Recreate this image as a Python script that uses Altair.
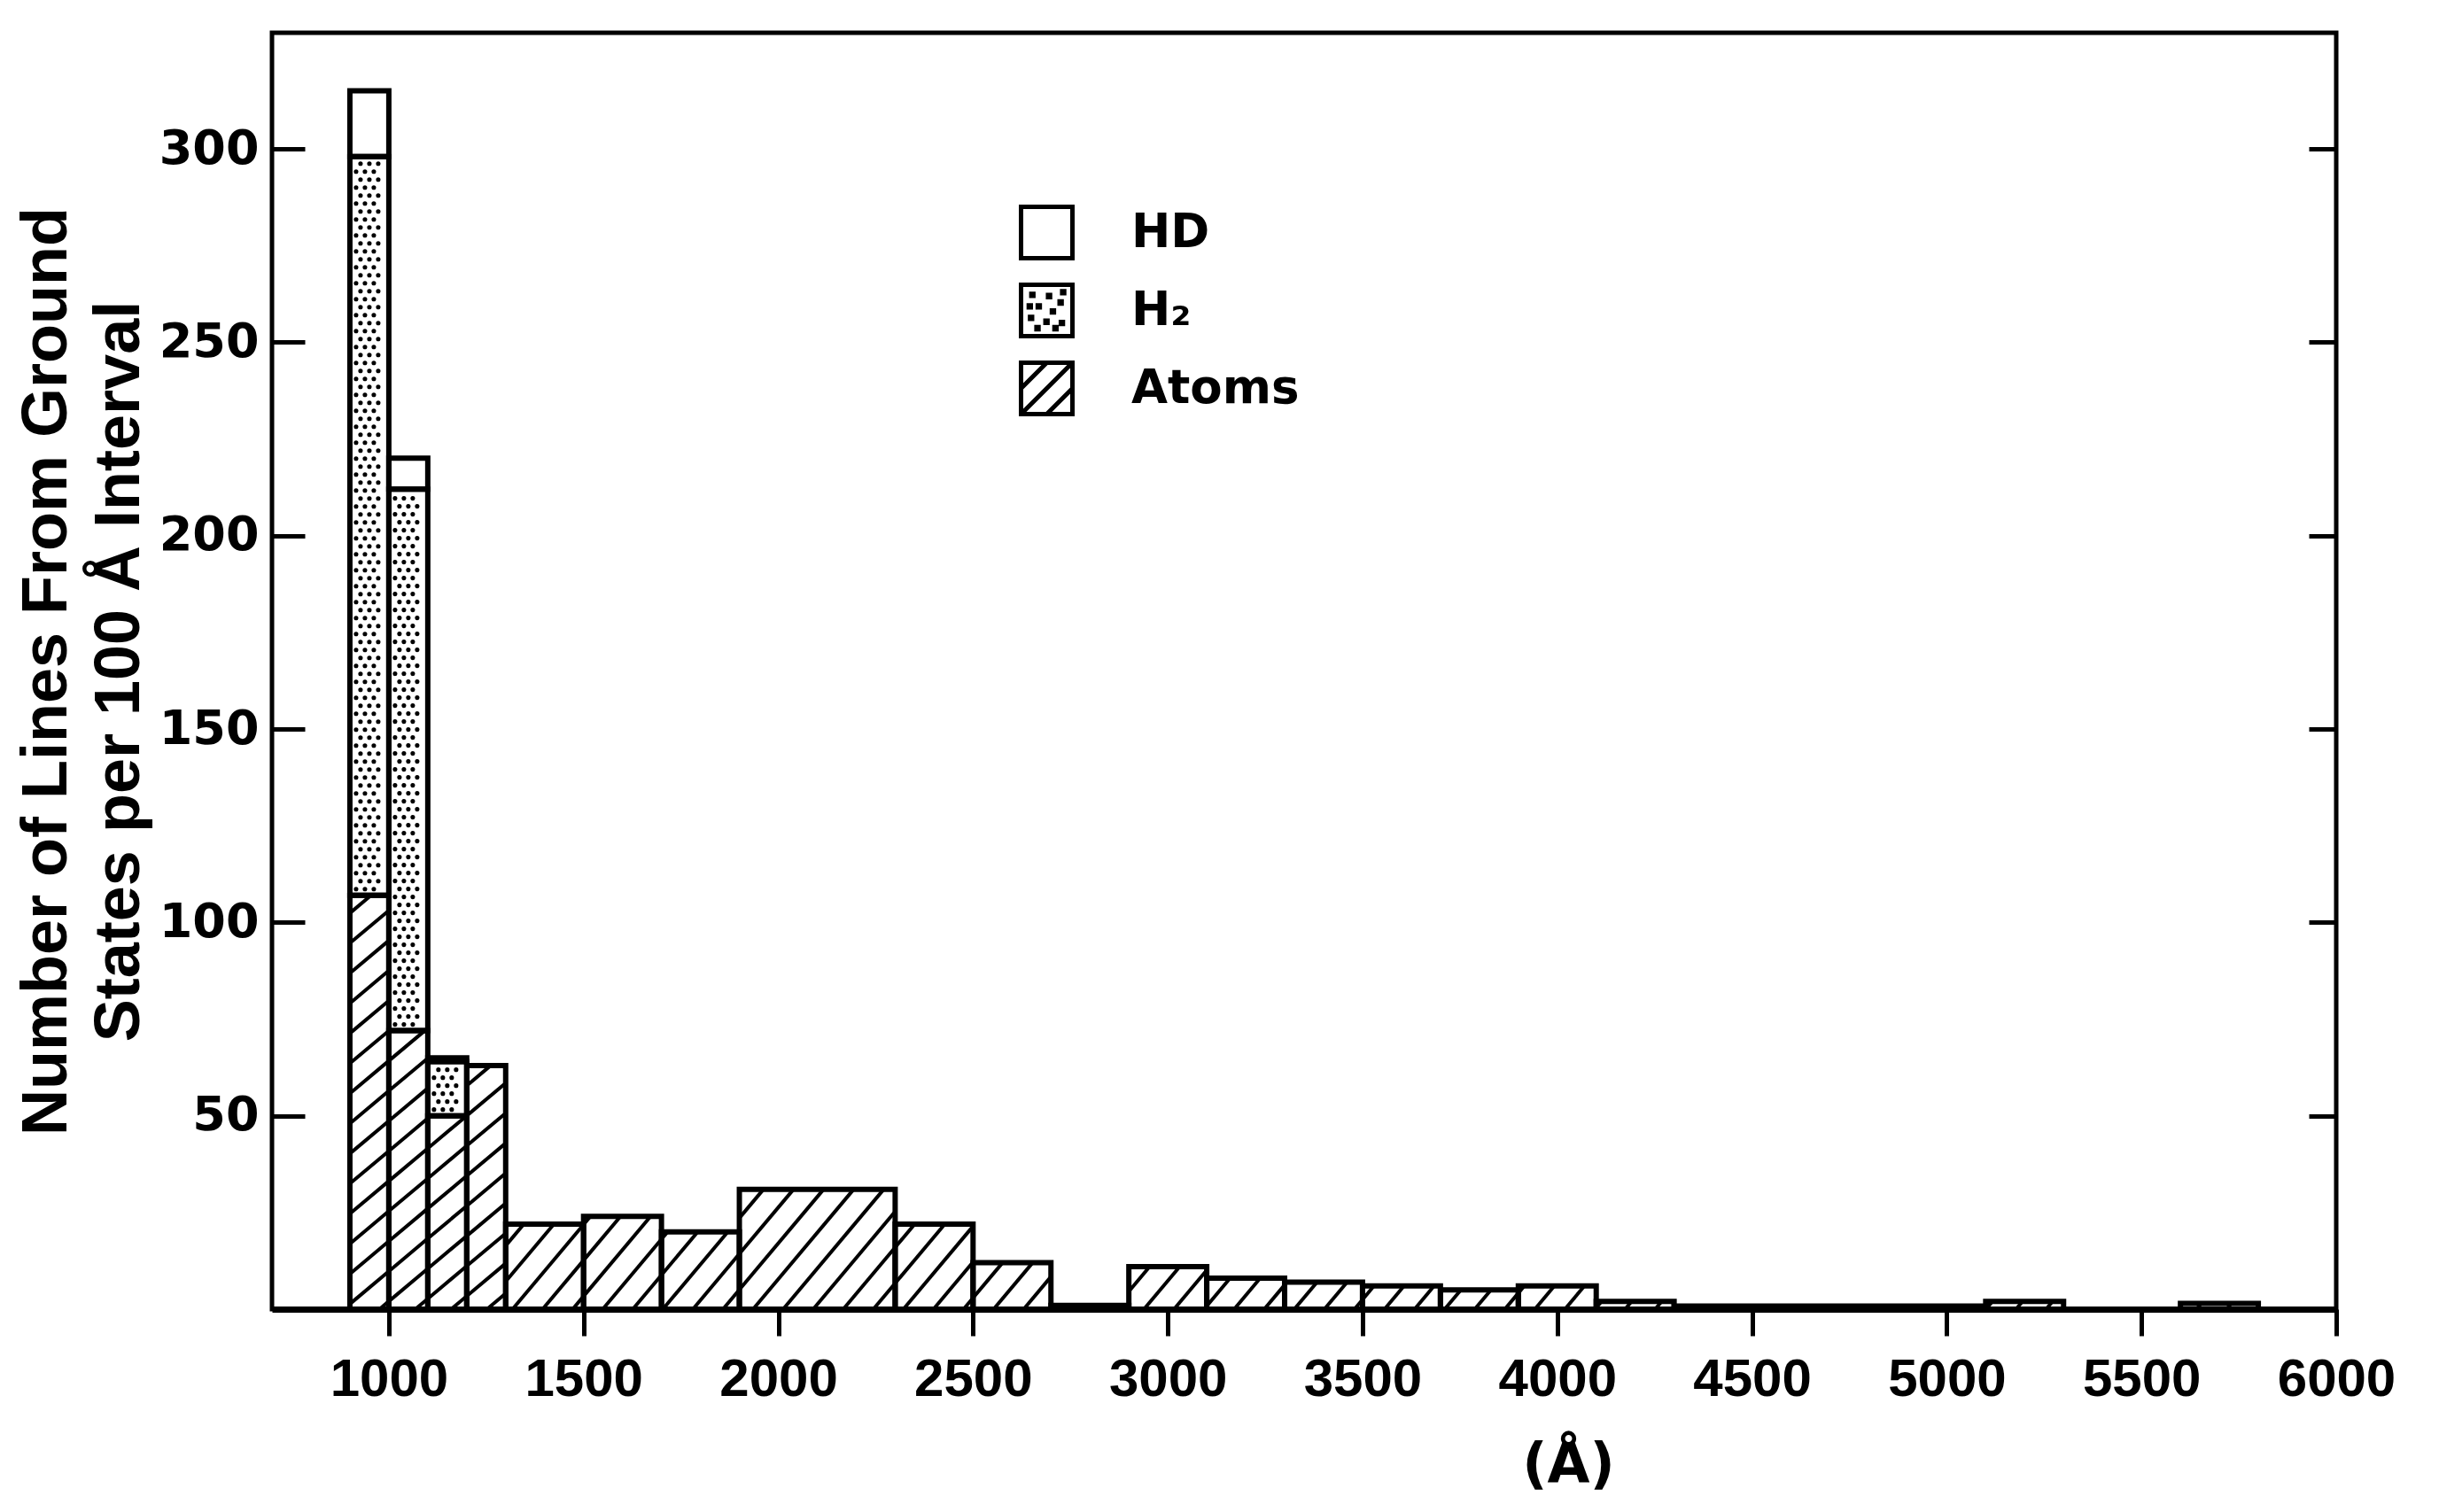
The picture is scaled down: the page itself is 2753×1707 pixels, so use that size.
import math
import altair as alt
import pandas as pd

# ---------------- data ----------------
bin_start = [900, 1000, 1100, 1200, 1300, 1500, 1700, 1900, 2300, 2500, 2700,
             2900, 3100, 3300, 3500, 3700, 3900, 4100, 4300, 5100, 5600]
bin_end = [1000, 1100, 1200, 1300, 1500, 1700, 1900, 2300, 2500, 2700, 2900,
           3100, 3300, 3500, 3700, 3900, 4100, 4300, 5100, 5300, 5800]
atoms = [107, 72, 50, 63, 22, 24, 20, 31, 22, 12, 1,
         11, 8, 7, 6, 5, 6, 2, 0.8, 2, 1.5]
h2 = [191, 140, 14, 0, 0, 0, 0, 0, 0, 0, 0,
      0, 0, 0, 0, 0, 0, 0, 0, 0, 0]
hd = [17, 8, 1, 0, 0, 0, 0, 0, 0, 0, 0,
      0, 0, 0, 0, 0, 0, 0, 0, 0, 0]

legend_names = ["HD", "H\u2082", "Atoms"]
x_ticks = [1000, 1500, 2000, 2500, 3000, 3500, 4000, 4500, 5000, 5500, 6000]
y_ticks = [50, 100, 150, 200, 250, 300]
y_title = ["Number of Lines From Ground", "States per 100 \u00c5 Interval"]
x_title = "(\u00c5)"

# ---------------- layout / style ----------------
W, H = 2330, 1441
XD = [700, 6000]
YD = [0, 330]
kx = W / (XD[1] - XD[0])
ky = H / (YD[1] - YD[0])

# stacked segments
segs = []
for s, e, a, h, d in zip(bin_start, bin_end, atoms, h2, hd):
    base = 0
    for name, v in (("Atoms", a), ("H\u2082", h), ("HD", d)):
        if v > 0:
            segs.append(dict(x0=s, x1=e, y0=base, y1=base + v, series=name))
        base += v
seg_df = pd.DataFrame(segs)

# diagonal hatching for the atoms segments (texture, in pixel space -> data)
def hatch(x0, x1, y0, y1, theta, gap=26.0):
    X0, X1 = (x0 - XD[0]) * kx, (x1 - XD[0]) * kx
    Y0, Y1 = y0 * ky, y1 * ky
    t = math.tan(math.radians(theta))
    g = gap / math.cos(math.radians(theta))
    cmin, cmax = Y0 - t * X1, Y1 - t * X0
    out = []
    for k in range(math.ceil(cmin / g), math.floor(cmax / g) + 1):
        c = k * g
        xs = max(X0, (Y0 - c) / t)
        xe = min(X1, (Y1 - c) / t)
        if xe - xs > 0.5:
            out.append(dict(hx=XD[0] + xs / kx, hy=(t * xs + c) / ky,
                            hx2=XD[0] + xe / kx, hy2=(t * xe + c) / ky))
    return out

hat = []
for r in segs:
    if r["series"] == "Atoms":
        ang = 40 if r["x0"] < 1300 else 50
        hat += hatch(r["x0"], r["x1"], r["y0"], r["y1"], ang)
hat_df = pd.DataFrame(hat)

# stipple for H2 segments (regular staggered texture)
dots = []
for r in segs:
    if r["series"] == "H\u2082":
        X0, X1 = (r["x0"] - XD[0]) * kx, (r["x1"] - XD[0]) * kx
        Y0, Y1 = r["y0"] * ky, r["y1"] * ky
        m, dx, dy = 7.0, 10.0, 9.0
        j = 0
        Y = Y0 + m
        while Y < Y1 - m:
            X = X0 + m + (dx / 2 if j % 2 else 0)
            while X < X1 - m:
                dots.append(dict(dx=XD[0] + X / kx, dy=Y / ky))
                X += dx
            Y += dy
            j += 1
dot_df = pd.DataFrame(dots)

legend_paths = [
    "M-1,-1H1V1H-1Z",
    "M-1,-1H1V1H-1Z"
    "M-0.6,-0.65h0.08v0.08h-0.08Z M0.05,-0.6h0.08v0.08h-0.08Z M0.5,-0.35h0.08v0.08h-0.08Z"
    "M-0.35,-0.2h0.08v0.08h-0.08Z M0.2,0.0h0.08v0.08h-0.08Z M-0.65,0.25h0.08v0.08h-0.08Z"
    "M-0.05,0.4h0.08v0.08h-0.08Z M0.55,0.45h0.08v0.08h-0.08Z M-0.4,0.65h0.08v0.08h-0.08Z"
    "M0.3,0.65h0.08v0.08h-0.08Z M-0.7,-0.2h0.08v0.08h-0.08Z M0.6,-0.75h0.08v0.08h-0.08Z",
    "M-1,-1H1V1H-1Z M-1,0L0,-1 M-1,1L1,-1 M0,1L1,0",
]

xs = alt.Scale(domain=XD, nice=False, zero=False)
ysc = alt.Scale(domain=YD, nice=False, zero=False)

hatch_layer = alt.Chart(hat_df).mark_rule(color="black", strokeWidth=4).encode(
    x=alt.X("hx:Q", scale=xs, axis=None),
    x2="hx2:Q",
    y=alt.Y("hy:Q", scale=ysc, axis=alt.Axis(
        orient="right", values=y_ticks, offset=-31, tickSize=31, tickWidth=5,
        tickColor="black", labels=False, domain=False, grid=False, title=None)),
    y2="hy2:Q",
)

dot_layer = alt.Chart(dot_df).mark_circle(color="black", size=26, opacity=1).encode(
    x=alt.X("dx:Q", scale=xs, axis=None),
    y=alt.Y("dy:Q", scale=ysc, axis=None),
)

outline_layer = alt.Chart(seg_df).mark_rect(
    fill="transparent", stroke="black", strokeWidth=6
).encode(
    x=alt.X("x0:Q", scale=xs, axis=alt.Axis(
        values=x_ticks, format="d", tickSize=30, tickWidth=5, tickColor="black",
        domain=True, domainWidth=7, domainColor="black", grid=False,
        labelFont="Liberation Sans", labelFontSize=60, labelFontWeight="bold",
        labelColor="black", labelPadding=20, labelFlush=False, labelOverlap=False,
        title=x_title, titleFont="DejaVu Sans", titleFontSize=62,
        titleFontWeight="bold", titleColor="black", titleX=1463, titleY=194,
        titleBaseline="alphabetic")),
    x2="x1:Q",
    y=alt.Y("y0:Q", scale=ysc, axis=alt.Axis(
        orient="left", values=y_ticks, format="d", offset=-37, tickSize=37,
        tickWidth=5, tickColor="black", domain=False, grid=False,
        labelFont="DejaVu Sans", labelFontSize=54, labelFontWeight="bold",
        labelColor="black", labelPadding=15,
        title=y_title, titleFont="Liberation Sans", titleFontSize=72,
        titleFontWeight="bold", titleColor="black", titlePadding=8,
        titleLineHeight=82)),
    y2="y1:Q",
)

legend_layer = alt.Chart(pd.DataFrame({"series": legend_names})).transform_filter(
    "false"
).mark_point(color="black", filled=False).encode(
    shape=alt.Shape("series:N", scale=alt.Scale(domain=legend_names, range=legend_paths),
                    legend=alt.Legend(
                        orient="none", legendX=843, legendY=194, title=None,
                        symbolSize=3364, symbolStrokeWidth=5, symbolStrokeColor="black",
                        symbolOpacity=1, labelFont="DejaVu Sans", labelFontSize=53,
                        labelFontWeight="bold", labelColor="black", rowPadding=9,
                        labelOffset=64, padding=0, labelLimit=600)),
)

chart = alt.layer(hatch_layer, dot_layer, outline_layer, legend_layer).resolve_axis(
    x="independent", y="independent"
).properties(
    width=W, height=H,
    background="white",
    autosize=alt.AutoSizeParams(type="none"),
    padding={"left": 299, "top": 29, "right": 100, "bottom": 215},
).configure_view(stroke="black", strokeWidth=5)

chart.save("out.html", embed_options={"renderer": "svg", "actions": False})
